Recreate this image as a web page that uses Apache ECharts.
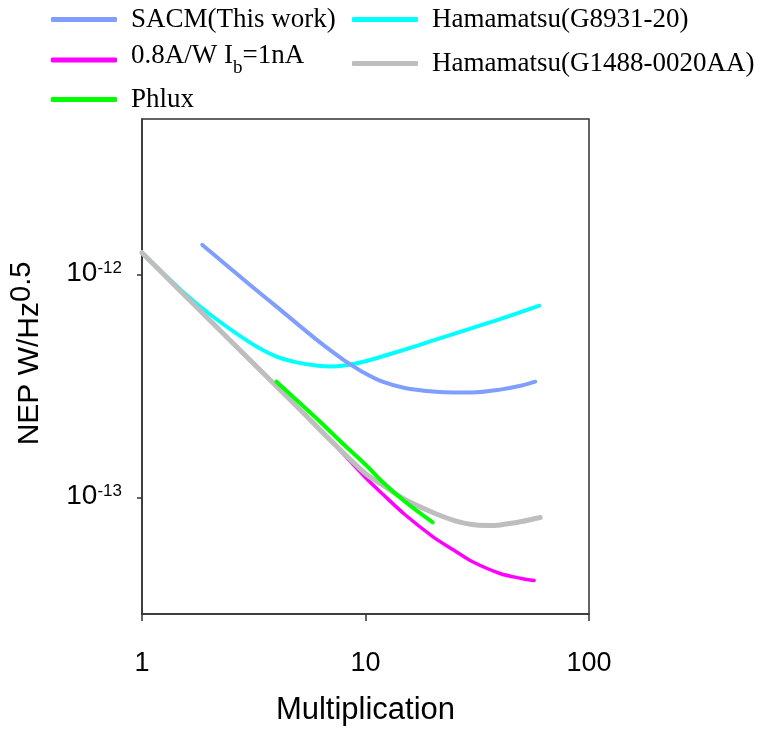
<!DOCTYPE html>
<html>
<head>
<meta charset="utf-8">
<script src="https://cdn.jsdelivr.net/npm/echarts@6/dist/echarts.min.js"></script>
<style>
  html, body { margin: 0; padding: 0; background: #fff; }
  #chart { width: 761px; height: 731px; }
</style>
</head>
<body>
<div id="chart"></div>
<script>
// Multiplication values (x) and NEP in W/Hz^0.5 (y) for each device
const sacmM   = [1.86, 2, 3, 4, 5, 6, 7, 8, 10, 12, 15, 20, 25, 30, 40, 50, 57.5];
const sacmNEP = [1.363e-12, 1.281e-12, 9.11e-13, 7.19e-13, 5.97e-13, 5.14e-13, 4.56e-13, 4.14e-13, 3.6e-13, 3.3e-13, 3.1e-13, 2.99e-13, 2.96e-13, 2.96e-13, 3.05e-13, 3.18e-13, 3.31e-13];

const g8931M   = [1, 1.5, 2, 3, 4, 5, 6, 7, 8, 10, 15, 20, 30, 40, 60];
const g8931NEP = [1.255e-12, 8.5e-13, 6.68e-13, 5.01e-13, 4.29e-13, 4.03e-13, 3.91e-13, 3.87e-13, 3.91e-13, 4.09e-13, 4.61e-13, 5.06e-13, 5.76e-13, 6.32e-13, 7.26e-13];

const g1488M   = [1, 1.5, 2, 3, 5, 7, 10, 12, 15, 20, 25, 30, 35, 40, 50, 60.5];
const g1488NEP = [1.255e-12, 8.37e-13, 6.28e-13, 4.2e-13, 2.53e-13, 1.8e-13, 1.28e-13, 1.132e-13, 9.8e-14, 8.57e-14, 7.88e-14, 7.56e-14, 7.49e-14, 7.53e-14, 7.8e-14, 8.13e-14];

const ibM   = [1, 1.5, 2, 3, 5, 7, 10, 12, 15, 20, 25, 30, 40, 50, 56.8];
const ibNEP = [1.255e-12, 8.37e-13, 6.28e-13, 4.2e-13, 2.53e-13, 1.8e-13, 1.23e-13, 1.031e-13, 8.39e-14, 6.68e-14, 5.78e-14, 5.16e-14, 4.56e-14, 4.33e-14, 4.24e-14];

const phluxM   = [4, 6, 8, 10, 12, 15, 20];
const phluxNEP = [3.31e-13, 2.28e-13, 1.73e-13, 1.406e-13, 1.167e-13, 9.59e-14, 7.73e-14];

// Axis ticks
const xTicks = [1, 10, 100];
const yTicks = [1e-13, 1e-12];

const names = {
  sacm: 'SACM(This work)',
  ib: '0.8A/W Ib=1nA',
  phlux: 'Phlux',
  g8931: 'Hamamatsu(G8931-20)',
  g1488: 'Hamamatsu(G1488-0020AA)'
};

const pairs = (xs, ys) => xs.map((x, i) => [x, ys[i]]);

const serif = 'Liberation Serif';
const sans = 'Liberation Sans';
const axisColor = '#333';

function legendAt(name, left, top) {
  return {
    data: [name],
    left: left,
    top: top,
    padding: 0,
    orient: 'horizontal',
    icon: 'roundRect',
    itemWidth: 66,
    itemHeight: 5,
    selectedMode: false,
    formatter: function (n) {
      // the trailing wide space token makes the line tall enough for the subscript to drop
      if (n === names.ib) return '{m|0.8A/W I}{sub|b}{m|=1nA}{sp| }';
      return '{t|' + n + '}';
    },
    textStyle: {
      padding: [0, 0, 0, 9],
      rich: {
        t: { fontFamily: serif, fontSize: 27, color: '#000' },
        m: { fontFamily: serif, fontSize: 27, color: '#000', verticalAlign: 'top' },
        sub: { fontFamily: serif, fontSize: 19, color: '#000', verticalAlign: 'bottom' },
        sp: { fontFamily: serif, fontSize: 36, color: '#000' }
      }
    }
  };
}

function lineSeries(name, xs, ys, color, width, z) {
  return {
    name: name,
    type: 'line',
    data: pairs(xs, ys),
    showSymbol: false,
    symbol: 'none',
    smooth: 0.3,
    z: z,
    lineStyle: { color: color, width: width, cap: 'round', join: 'round' },
    itemStyle: { color: color }
  };
}

const chart = echarts.init(document.getElementById('chart'), null, { renderer: 'canvas' });

chart.setOption({
  backgroundColor: '#fff',
  animation: false,
  legend: [
    legendAt(names.sacm, 51, 6),
    legendAt(names.ib, 51, 42),
    legendAt(names.phlux, 51, 86),
    legendAt(names.g8931, 352, 6),
    legendAt(names.g1488, 352, 50)
  ],
  grid: {
    left: 142, top: 119, width: 447, height: 495,
    outerBoundsMode: 'none',
    containLabel: false,
    show: true, borderColor: axisColor, borderWidth: 1.5, backgroundColor: 'transparent'
  },
  xAxis: {
    type: 'log',
    logBase: 10,
    min: 1,
    max: 100,
    name: 'Multiplication',
    nameLocation: 'middle',
    nameGap: 81,
    nameTextStyle: { fontFamily: sans, fontSize: 31, color: '#000' },
    axisLine: { show: true, lineStyle: { color: axisColor, width: 1.5 } },
    axisTick: { show: true, length: 7, customValues: xTicks, lineStyle: { color: axisColor, width: 1.5 } },
    axisLabel: { fontFamily: sans, fontSize: 27, color: '#000', margin: 36, customValues: xTicks },
    splitLine: { show: false },
    minorTick: { show: false }
  },
  yAxis: {
    type: 'log',
    logBase: 10,
    min: 3e-14,
    max: 5e-12,
    name: '{n|NEP W/Hz}{s|0.5}',
    nameLocation: 'middle',
    nameRotate: 90,
    nameGap: 97,
    nameTextStyle: {
      padding: [0, 0, 0, 26],
      rich: {
        n: { fontFamily: sans, fontSize: 30, color: '#000', lineHeight: 38, verticalAlign: 'bottom' },
        s: { fontFamily: sans, fontSize: 29, color: '#000', lineHeight: 38, verticalAlign: 'top' }
      }
    },
    axisLine: { show: true, lineStyle: { color: axisColor, width: 1.5 } },
    axisTick: { show: true, length: 5, customValues: yTicks, lineStyle: { color: axisColor, width: 1.5 } },
    axisLabel: {
      margin: 20,
      customValues: yTicks,
      formatter: function (v) {
        return '{a|10}{b|' + Math.round(Math.log10(v)) + '}';
      },
      rich: {
        a: { fontFamily: sans, fontSize: 28, color: '#000', lineHeight: 30, verticalAlign: 'top' },
        b: { fontFamily: sans, fontSize: 17, color: '#000', lineHeight: 17, verticalAlign: 'top' }
      }
    },
    splitLine: { show: false },
    minorTick: { show: false }
  },
  series: [
    lineSeries(names.g8931, g8931M, g8931NEP, '#00FFFF', 4, 2),
    lineSeries(names.ib, ibM, ibNEP, '#FF00FF', 3.5, 3),
    lineSeries(names.g1488, g1488M, g1488NEP, '#BEBEBE', 5, 4),
    lineSeries(names.sacm, sacmM, sacmNEP, '#7F9EFF', 4, 5),
    lineSeries(names.phlux, phluxM, phluxNEP, '#00FF00', 4, 6)
  ]
});
</script>
</body>
</html>
